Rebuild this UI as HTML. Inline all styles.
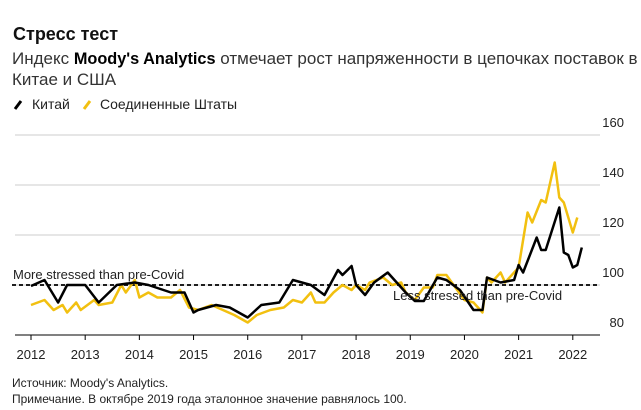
<!DOCTYPE html>
<html><head><meta charset="utf-8"><style>
body{margin:0;width:641px;height:410px;background:#fff;font-family:"Liberation Sans",sans-serif;overflow:hidden}
svg{position:absolute;left:0;top:0}
text{font-family:"Liberation Sans",sans-serif}
</style></head><body>
<svg width="641" height="410">
<text x="13" y="40" font-size="18" font-weight="bold" fill="#111">Стресс тест</text>
<text x="12" y="64" font-size="17" fill="#333">Индекс <tspan fill="#000" font-weight="bold" font-size="16.3">Moody's Analytics</tspan> отмечает рост напряженности в цепочках поставок в</text>
<text x="12" y="85" font-size="17" fill="#333">Китае и США</text>
<g>
<line x1="15" y1="109" x2="21" y2="101" stroke="#000" stroke-width="3"/>
<text x="32" y="109" font-size="14" fill="#222">Китай</text>
<line x1="84" y1="109" x2="90" y2="101" stroke="#f2c010" stroke-width="3"/>
<text x="100" y="109" font-size="14" fill="#222">Соединенные Штаты</text>
</g>
<g id="grid"></g><g id="series"></g>
<text x="13" y="279" font-size="13" fill="#222">More stressed than pre-Covid</text>
<text x="393" y="300" font-size="13" fill="#222">Less stressed than pre-Covid</text>
<text x="12" y="387" font-size="12" fill="#222">Источник: Moody's Analytics.</text>
<text x="12" y="403" font-size="12" fill="#222">Примечание. В октябре 2019 года эталонное значение равнялось 100.</text>
</svg>
<script>
const yTicks=[80,100,120,140,160];
const years=[2012,2013,2014,2015,2016,2017,2018,2019,2020,2021,2022];
const chinaMonths=[0,3,6,8,12,15,19,23,26,31,34,36,37,41,44,48,51,55,58,62,65,68,69,71,72,74,76,79,81,83,85,87,90,92,95,98,100,101,104,107,108,109,112,113,114,117,118,119,120,121,122];
const chinaValues=[99.6,102,93,100,100,93,100,101,100,97,97,89,90,92,91,87,92,93,102,100,96,106,104,107.6,100,96,101,105,101,97,93.6,93.6,103,102,98,90,90,103,101,102,108,105,119,114,114,131,113,112,107,108,115];
const usMonths=[0,3,5,7,8,10,11,14,15,18,20,21,23,24,26,28,31,33,35,37,40,45,48,50,53,56,58,60,62,63,65,67,69,71,72,74,75,78,80,82,83,85,87,89,90,92,94,96,98,100,101,102,104,105,108,110,111,113,114,116,117,118,120,121];
const usValues=[92,94,90,92,89,93,90,94,92,93,100,97,102,95,97,95,95,98,91,90,92,88,85,88,90,91,94,93,97,93,93,97,100,98,100,98,101,103,100,101,97,94,99,99,104,104,99,94,93,89,103,101,105,101,107,129,125,134,133,149,135,133,121,127];
const xS=m=>31+m*4.515;
const xY=y=>xS((y-2012)*12);
const yS=v=>285-(v-100)*2.5;
const NS="http://www.w3.org/2000/svg";
const g=document.getElementById('grid'),s=document.getElementById('series');
function mk(t,a,p){const e=document.createElementNS(NS,t);for(const k in a)e.setAttribute(k,a[k]);p.appendChild(e);return e;}
yTicks.forEach(v=>{
 if(v>80){const l=mk('line',{x1:15,x2:600,y1:yS(v),y2:yS(v),stroke:'#ddd','stroke-width':1.5},g);
 
 }
 const t=mk('text',{x:624,y:yS(v)-8,'font-size':13,fill:'#222','text-anchor':'end'},g);t.textContent=v;
 
 
});
const ax=mk('line',{x1:15,x2:600,y1:335,y2:335,stroke:'#000','stroke-width':1},g);


years.forEach(y=>{
 const x=xY(y);
 const tk=mk('line',{x1:x,x2:x,y1:335,y2:340,stroke:'#000'},g);
 
 
 const t=mk('text',{x:x,y:359,'font-size':13,fill:'#222','text-anchor':'middle'},g);t.textContent=y;
 
 
});
const ref=mk('line',{x1:12,x2:600,y1:yS(100),y2:yS(100),stroke:'#000','stroke-width':1.8,'stroke-dasharray':'4,3'},g);


function line(ms,vs,c,n){
 const d=ms.map((m,i)=>(i?'L':'M')+xS(m).toFixed(1)+','+yS(vs[i]).toFixed(1)).join('');
 const p=mk('path',{d:d,fill:'none',stroke:c,'stroke-width':2.5,'stroke-linejoin':'round'},s);
 
 
}
line(usMonths,usValues,'#f2c010','us-line');
line(chinaMonths,chinaValues,'#000','china-line');
</script>
</body></html>
